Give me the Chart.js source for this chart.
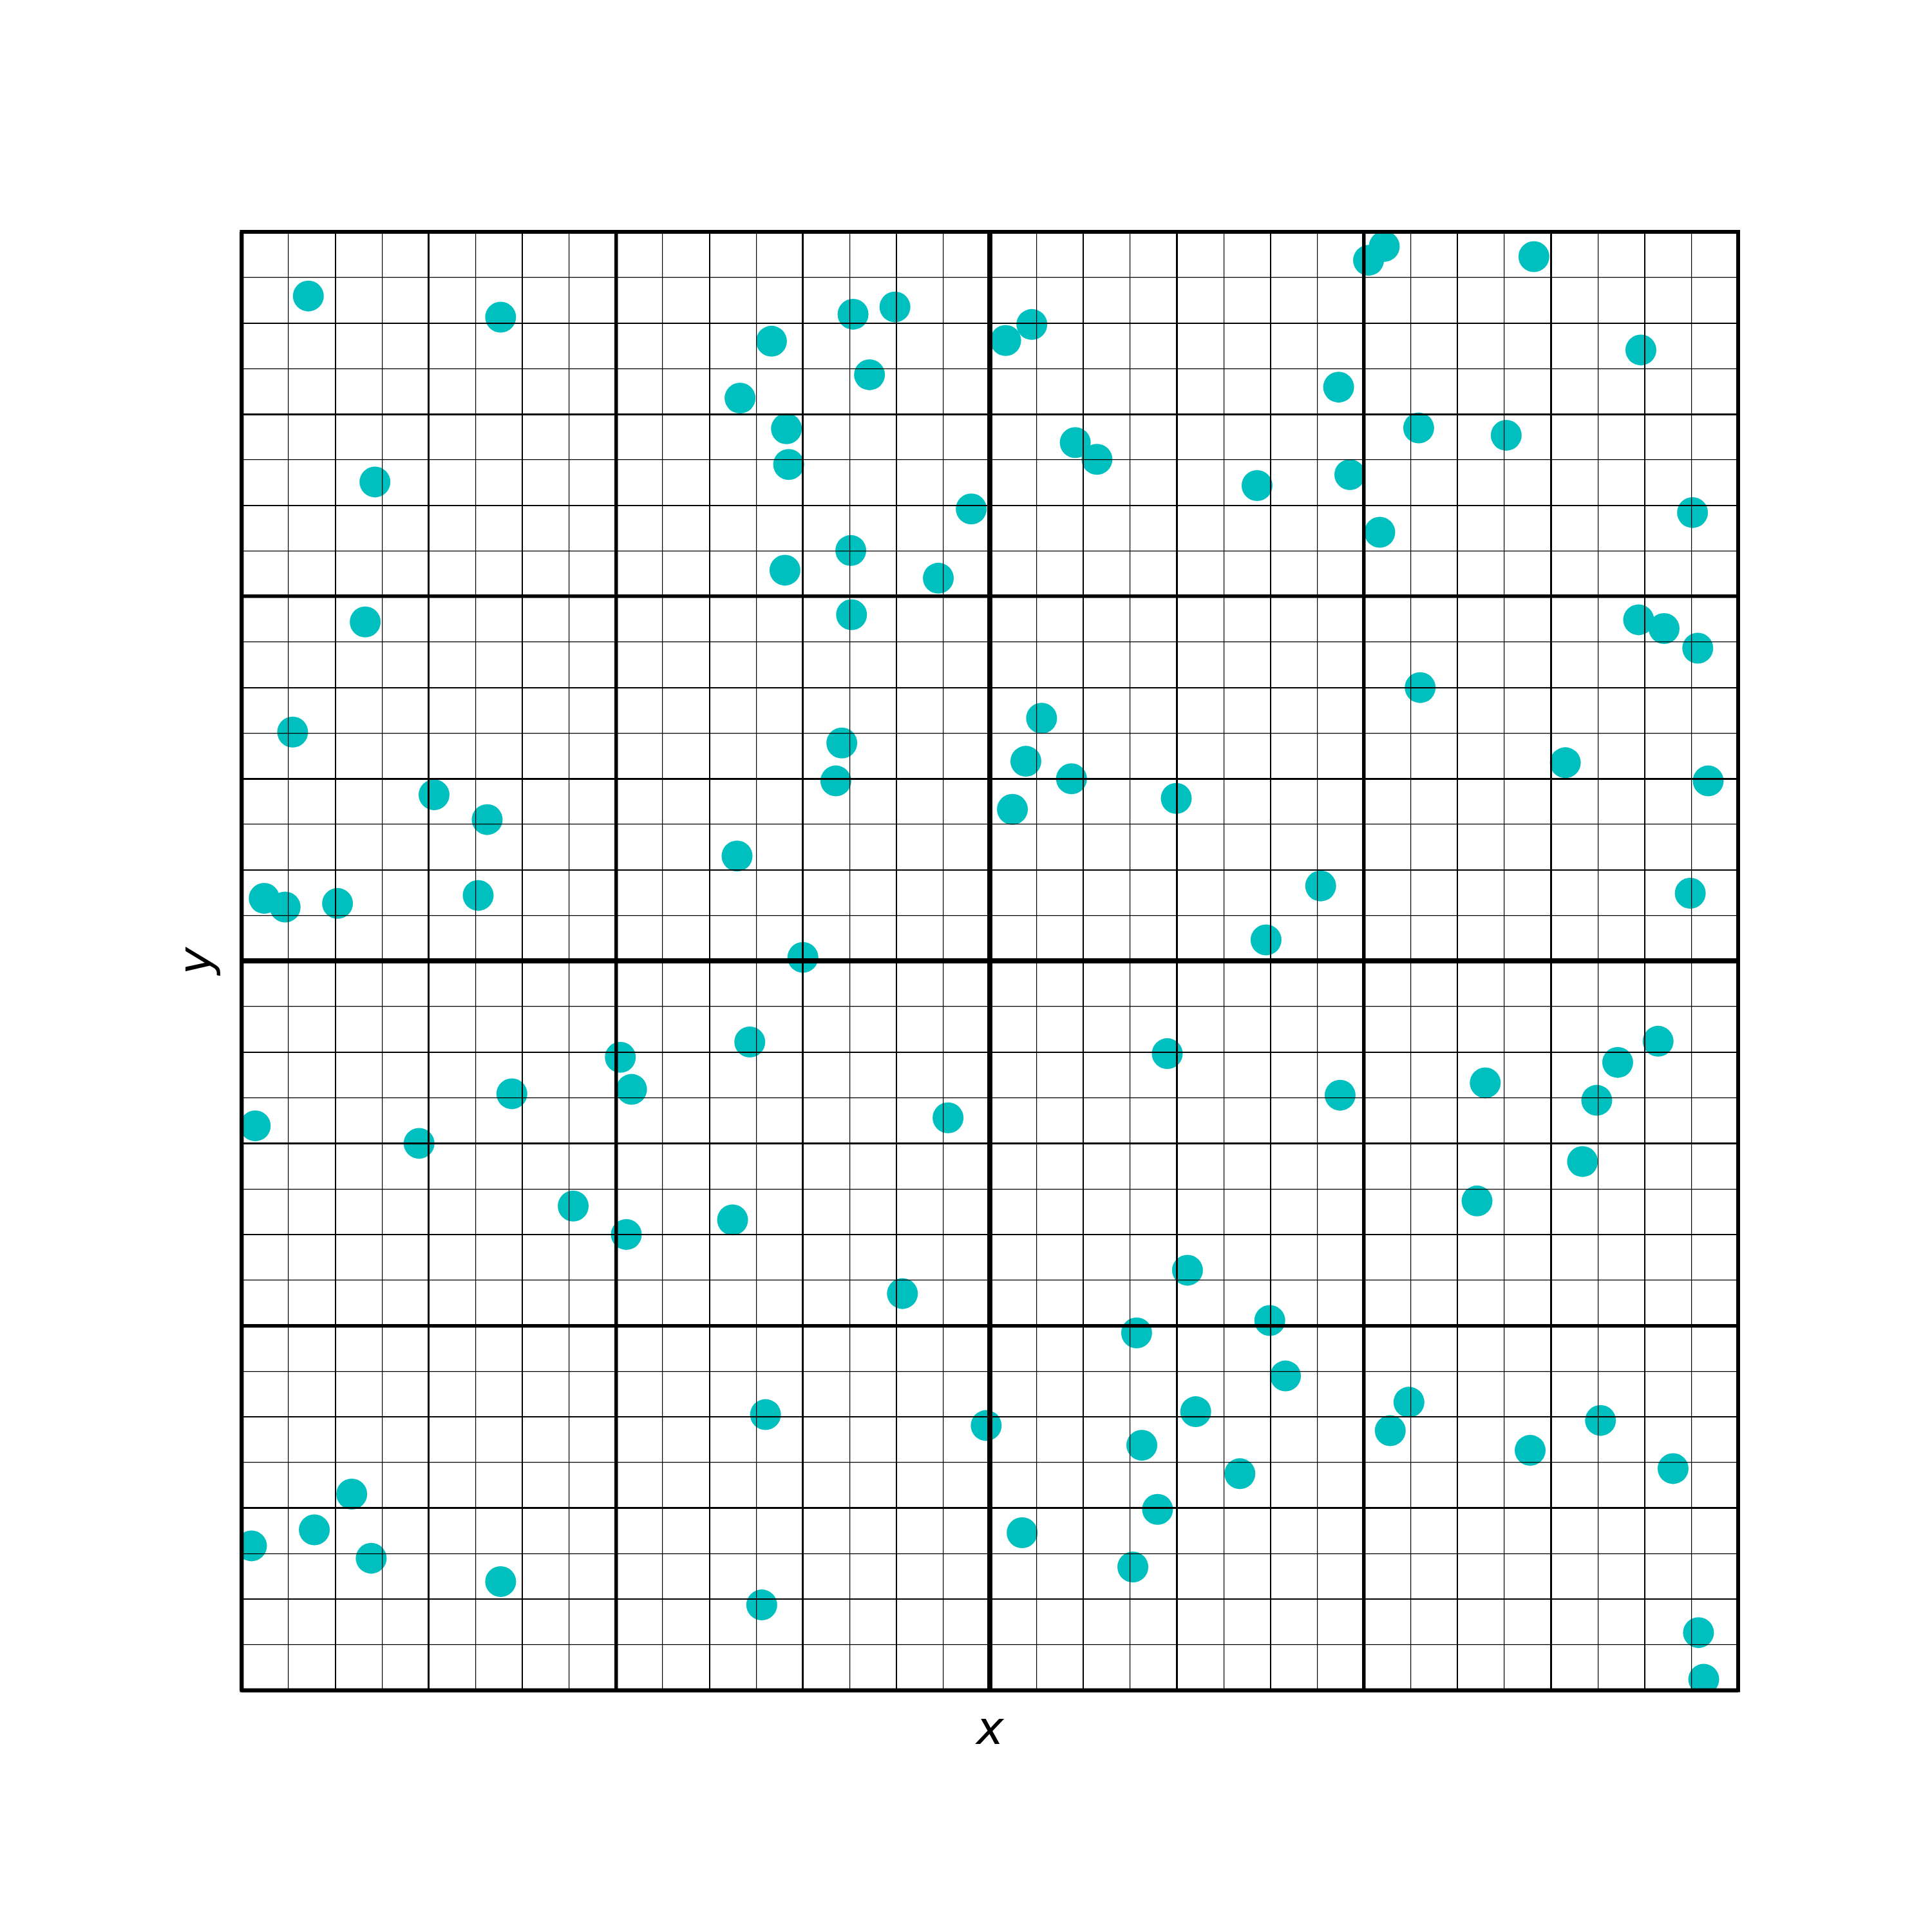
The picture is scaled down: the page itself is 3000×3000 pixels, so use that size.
<!DOCTYPE html>
<html>
<head>
<meta charset="utf-8">
<script src="https://cdn.jsdelivr.net/npm/chart.js@4.4.1/dist/chart.umd.min.js"></script>
<style>
    html, body { margin: 0; padding: 0; background: #ffffff; }
    #wrap { width: 3000px; height: 3000px; position: relative; }
</style>
</head>
<body>
<div id="wrap"><canvas id="scatterChart"></canvas></div>
<script>
// point positions (axes run -1..1, 32 grid cells each way)
const xValues = [
    -0.911, -0.654, -0.822, -0.835, -0.932, -0.743, -0.672, -0.970, -0.942, -0.872,
    -0.684, -0.292, -0.183, -0.127, -0.161, -0.334, -0.272, -0.269, -0.186, -0.274,
    -0.069, -0.025, -0.185, -0.198, -0.206, -0.338, -0.250, 0.021, 0.056, 0.114,
    0.143, 0.357, 0.466, 0.481, 0.506, 0.527, 0.727, 0.573, 0.690, 0.521,
    0.870, 0.939, 0.867, 0.901, 0.946, 0.575, 0.769, 0.960, 0.936, 0.069,
    0.048, 0.109, 0.030, 0.249, 0.442, 0.369, -0.982, -0.763, -0.639, -0.494,
    -0.479, -0.321, -0.557, -0.486, -0.344, -0.056, -0.117, 0.237, 0.468, 0.662,
    0.839, 0.893, 0.811, 0.792, 0.651, 0.264, 0.374, 0.196, 0.395, 0.275,
    0.203, 0.334, 0.224, 0.191, 0.043, -0.005, 0.560, 0.535, 0.722, 0.816,
    0.913, 0.947, 0.954, -0.300, -0.305, -0.654, -0.827, -0.903, -0.853, -0.987
];
const yValues = [
    0.912, 0.883, 0.657, 0.465, 0.314, 0.228, 0.194, 0.086, 0.074, 0.079,
    0.090, 0.850, 0.887, 0.897, 0.804, 0.772, 0.730, 0.681, 0.563, 0.536,
    0.525, 0.620, 0.475, 0.299, 0.247, 0.144, 0.005, 0.851, 0.873, 0.711,
    0.688, 0.652, 0.787, 0.667, 0.961, 0.980, 0.966, 0.731, 0.721, 0.588,
    0.838, 0.615, 0.468, 0.456, 0.429, 0.375, 0.272, 0.247, 0.093, 0.333,
    0.274, 0.250, 0.208, 0.223, 0.103, 0.029, -0.226, -0.250, -0.182, -0.132,
    -0.176, -0.111, -0.336, -0.375, -0.355, -0.215, -0.456, -0.127, -0.184, -0.167,
    -0.139, -0.110, -0.191, -0.275, -0.329, -0.424, -0.493, -0.510, -0.569, -0.618,
    -0.664, -0.703, -0.752, -0.831, -0.784, -0.637, -0.605, -0.644, -0.671, -0.630,
    -0.696, -0.921, -0.985, -0.622, -0.883, -0.851, -0.819, -0.780, -0.731, -0.802
];
const axisMin = -1;
const axisMax = 1;
const gridStep = 0.0625;
const xLabel = 'x';
const yLabel = 'y';

const points = xValues.map((x, i) => ({ x: x, y: yValues[i] }));

// heavier lines every 2nd/4th/8th/16th cell
function gridWidth(ctx) {
    const i = Math.round((ctx.tick.value - axisMin) / gridStep);
    if (i === 0 || i === 32) return 6;
    if (i === 16) return 8;
    if (i % 8 === 0) return 5.5;
    if (i % 4 === 0) return 3;
    if (i % 2 === 0) return 2;
    return 1.2;
}

const framePlugin = {
    id: 'frame',
    afterDraw(chart) {
        const { ctx, chartArea } = chart;
        ctx.save();
        ctx.strokeStyle = '#000000';
        ctx.lineWidth = 6;
        ctx.strokeRect(chartArea.left, chartArea.top,
            chartArea.right - chartArea.left, chartArea.bottom - chartArea.top);
        ctx.restore();
    }
};

const titleFont = { family: 'DejaVu Sans', size: 72, style: 'italic', weight: 'normal' };

function axisOptions(label, pad) {
    return {
        type: 'linear',
        min: axisMin,
        max: axisMax,
        ticks: { display: false, stepSize: gridStep },
        grid: { color: '#000000', lineWidth: gridWidth, drawTicks: false, z: 1 },
        border: { display: false },
        title: { display: true, text: label, color: '#000000', font: titleFont, padding: pad }
    };
}

new Chart(document.getElementById('scatterChart'), {
    type: 'scatter',
    data: {
        datasets: [{
            data: points,
            backgroundColor: '#00BFBF',
            borderWidth: 0,
            pointRadius: 24,
            pointHoverRadius: 24,
            clip: 0
        }]
    },
    options: {
        responsive: true,
        maintainAspectRatio: false,
        devicePixelRatio: 1,
        animation: false,
        layout: { padding: { left: 265, right: 301, top: 360, bottom: 268 } },
        scales: {
            x: axisOptions(xLabel, { top: 21, bottom: 0 }),
            y: axisOptions(yLabel, { top: 0, bottom: 24 })
        },
        plugins: {
            legend: { display: false },
            tooltip: { enabled: false }
        }
    },
    plugins: [framePlugin]
});
</script>
</body>
</html>
